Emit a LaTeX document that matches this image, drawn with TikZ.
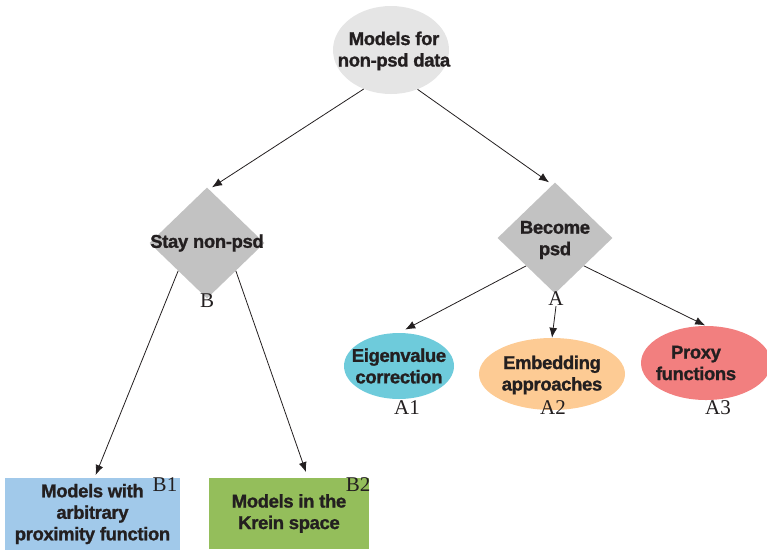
\documentclass[tikz,border=0pt]{standalone}
\usepackage{fontspec}
\usetikzlibrary{shapes.geometric,arrows.meta}
\newfontfamily\nodefont{Liberation Sans}[BoldFeatures={FakeBold=1.2}, LetterSpace=-2]
\newfontfamily\labfont{Liberation Serif}
\definecolor{txt}{HTML}{231F20}
\definecolor{ctop}{HTML}{E5E5E5}
\definecolor{cdia}{HTML}{C2C2C2}
\definecolor{cAone}{HTML}{6ECBDB}
\definecolor{cAtwo}{HTML}{FDCB94}
\definecolor{cAthree}{HTML}{F27F7F}
\definecolor{cBone}{HTML}{A1C9EA}
\definecolor{cBtwo}{HTML}{94BE5B}
\tikzset{
  ntext/.style={font=\nodefont\bfseries\fontsize{18.5}{21.5}\selectfont, text=txt, align=center, inner sep=0pt},
  ellnode/.style={ellipse, draw=none, inner sep=0pt},
  dianode/.style={diamond, draw=none, fill=cdia, inner sep=0pt, minimum width=115pt, minimum height=111pt},
  boxnode/.style={ntext, rectangle, draw=none},
  lab/.style={font=\labfont\fontsize{21}{21}\selectfont, text=txt, inner sep=0pt},
  arr/.style={draw=txt, line width=0.8pt, -{Latex[length=10pt,width=8pt]}}
}
\begin{document}
\begin{tikzpicture}[x=1pt,y=-1pt]
\useasboundingbox (0,0) rectangle (767,550);
% top
\node[ellnode, fill=ctop, minimum width=116pt, minimum height=88pt] (top) at (391,50) {};
\node[ntext] (topt) at (394,51) {Models for\\non-psd data};
% diamonds
\node[dianode] (B) at (207,243) {};
\node[ntext] (Bt) at (207,243) {Stay non-psd};
\node[lab] (Bl) at (207,301) {B};
\node[dianode] (A) at (555,238) {};
\node[ntext] (At) at (555,240) {Become\\psd};
\node[lab] (Al) at (556,299) {A};
% A children
\node[ellnode, fill=cAone, minimum width=110pt, minimum height=66pt] (A1) at (399,366) {};
\node[ntext] (A1t) at (399,366) {Eigenvalue\\correction};
\node[lab] (A1l) at (407,408) {A1};
\node[ellnode, fill=cAtwo, minimum width=146pt, minimum height=72pt] (A2) at (552,374) {};
\node[ntext] (A2t) at (552,375) {Embedding\\approaches};
\node[lab] (A2l) at (553,408) {A2};
\node[ellnode, fill=cAthree, minimum width=130pt, minimum height=74pt] (A3) at (706,363) {};
\node[ntext] (A3t) at (696,363) {Proxy\\functions};
\node[lab] (A3l) at (718,408) {A3};
% B children
\node[boxnode, fill=cBone, minimum width=175pt, minimum height=72pt] (B1) at (92.5,514) {Models with\\arbitrary\\proximity function};
\node[lab] (B1l) at (165,485) {B1};
\node[boxnode, fill=cBtwo, minimum width=160pt, minimum height=71pt] (B2) at (289,513.5) {Models in the\\Krein space};
\node[lab] (B2l) at (358,485) {B2};
% connectors
\draw[arr] (top.235) -- ([xshift=5pt]B.north);
\draw[arr] (top.304) -- ([xshift=-6pt]A.north);
\draw[arr, shorten >=3pt] (B.south west) -- ([xshift=2pt]B1.north);
\draw[arr, shorten >=6pt] (B.south east) -- ([xshift=19pt]B2.north);
\draw[arr, shorten >=7pt] (A.south west) -- (A1.north);
\draw[arr] (Al.south) -- (A2.north);
\draw[arr, shorten >=1pt] (A.south east) -- (A3.north);
\end{tikzpicture}
\end{document}
